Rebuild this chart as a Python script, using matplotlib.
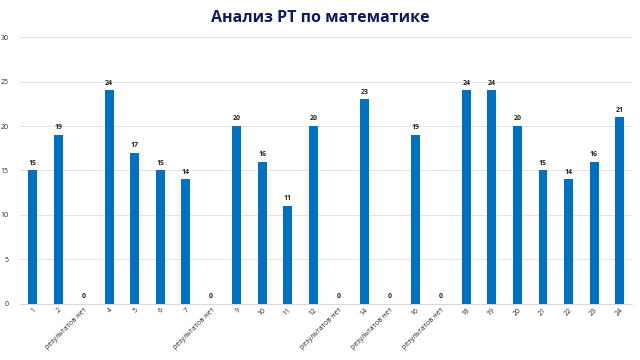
import matplotlib
matplotlib.use("Agg")
import matplotlib.pyplot as plt
import numpy as np

no_res = "результатов нет"
categories = ["1", "2", no_res, "4", "5", "6", "7", no_res, "9", "10", "11", "12",
              no_res, "14", no_res, "16", no_res, "18", "19", "20", "21", "22", "23", "24"]
values = [15, 19, 0, 24, 17, 15, 14, 0, 20, 16, 11, 20,
          0, 23, 0, 19, 0, 24, 24, 20, 15, 14, 16, 21]

plt.rcParams['font.family'] = ['Open Sans', 'DejaVu Sans']

fig = plt.figure(figsize=(6.4, 3.6), dpi=100)
ax = fig.add_axes([0.031, 0.156, 0.957, 0.741])

x = np.arange(len(categories))
ax.bar(x, values, width=0.35, color="#0070C0", zorder=3)

for xi, v in zip(x, values):
    ax.text(xi, v + 0.4, str(v), ha="center", va="bottom", fontsize=5,
            fontweight="bold", color="#262626")

ax.set_xlim(-0.5, len(categories) - 0.5)
ax.set_ylim(0, 30)
ax.set_yticks(range(0, 31, 5))
ax.yaxis.grid(True, color="#e3e3e3", linewidth=0.7, zorder=0)
ax.tick_params(axis="y", length=0, labelsize=5, colors="#262626", pad=8)
ax.tick_params(axis="x", length=0, labelsize=5, colors="#262626", pad=2)
ax.set_xticks(x)
ax.set_xticklabels(categories, rotation=45, ha="right", rotation_mode="anchor")
for s in ["top", "right", "left"]:
    ax.spines[s].set_visible(False)
ax.spines["bottom"].set_color("#d9d9d9")

fig.text(0.5, 0.95, "Анализ РТ по математике", ha="center", va="center",
         fontsize=11.5, fontweight="bold", family="Open Sans", color="#0d1a5c")

fig.savefig("out.png", dpi=100)
